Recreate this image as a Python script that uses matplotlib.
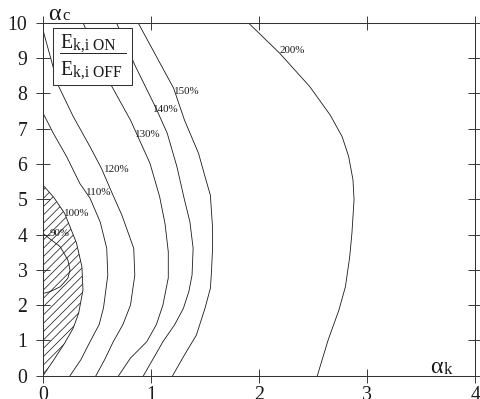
import matplotlib
matplotlib.use("Agg")
import matplotlib.pyplot as plt
from matplotlib.patches import Rectangle

# ---- data: contour lines (alpha_k, alpha_c) ----
levels = ["90%", "100%", "110%", "120%", "130%", "140%", "150%", "200%"]

x90 = [0.0, 0.065, 0.16, 0.23, 0.25, 0.23, 0.16, 0.0]
y90 = [2.33, 2.38, 2.52, 2.76, 2.99, 3.28, 3.65, 4.03]

x100 = [0.0, 0.10, 0.20, 0.28, 0.33, 0.37, 0.36, 0.31, 0.20, 0.10, 0.0]
y100 = [0.0, 0.45, 0.92, 1.35, 1.77, 2.43, 3.09, 3.76, 4.60, 5.05, 5.40]

x110 = [0.25, 0.35, 0.435, 0.52, 0.56, 0.60, 0.59, 0.53, 0.435, 0.34, 0.22, 0.095, 0.0]
y110 = [0.0, 0.45, 0.96, 1.45, 1.92, 2.85, 3.61, 4.35, 5.03, 5.45, 6.20, 6.87, 7.44]

x120 = [0.49, 0.57, 0.65, 0.74, 0.81, 0.85, 0.84, 0.73, 0.64, 0.54, 0.435, 0.28, 0.14, 0.0]
y120 = [0.0, 0.45, 0.96, 1.45, 2.00, 2.85, 3.61, 4.55, 5.17, 5.88, 6.49, 7.34, 8.23, 9.79]

x130 = [0.70, 0.81, 0.96, 1.05, 1.11, 1.16, 1.16, 1.13, 1.08, 0.99, 0.81, 0.62, 0.37]
y130 = [0.0, 0.50, 0.96, 1.45, 2.00, 2.77, 3.51, 4.30, 5.07, 6.02, 7.24, 8.29, 10.0]

x140 = [0.93, 1.02, 1.11, 1.22, 1.30, 1.35, 1.38, 1.39, 1.36, 1.31, 1.24, 1.15, 1.04, 0.85, 0.68]
y140 = [0.0, 0.48, 0.96, 1.45, 1.91, 2.38, 2.85, 3.61, 4.36, 4.98, 5.92, 6.87, 7.62, 8.80, 10.0]

x150 = [1.20, 1.31, 1.42, 1.50, 1.55, 1.56, 1.57, 1.57, 1.55, 1.50, 1.44, 1.31, 1.21, 0.88]
y150 = [0.0, 0.59, 1.15, 1.91, 2.48, 2.95, 3.61, 4.18, 5.11, 5.64, 6.30, 7.24, 8.14, 10.0]

x200 = [2.54, 2.64, 2.74, 2.80, 2.84, 2.86, 2.88, 2.87, 2.83, 2.77, 2.66, 2.47, 2.19, 1.90]
y200 = [0.0, 1.01, 1.86, 2.52, 3.37, 4.03, 4.98, 5.55, 6.21, 6.77, 7.38, 8.19, 9.14, 10.0]

label_x = [0.065, 0.195, 0.40, 0.565, 0.85, 1.02, 1.21, 2.19]
label_y = [4.04, 4.59, 5.20, 5.84, 6.83, 7.54, 8.05, 9.21]

x_ticks = [0, 1, 2, 3, 4]
y_ticks = [0, 1, 2, 3, 4, 5, 6, 7, 8, 9, 10]

# ---- style ----
plt.rcParams["font.family"] = ["Liberation Serif", "DejaVu Serif"]
plt.rcParams["hatch.linewidth"] = 0.7

ink = "#1a1a1a"
fig = plt.figure(figsize=(6.4, 5.32), dpi=75)
ax = fig.add_axes([0.0896, 0.0584, 0.90, 0.8847])
ax.set_xlim(0, 4)
ax.set_ylim(0, 10)

# hatched region left of the 100% line
ax.fill_betweenx(y100, 0, x100, facecolor="none", edgecolor=ink,
                 hatch="///", linewidth=0)

curves = [(x90, y90), (x100, y100), (x110, y110), (x120, y120),
          (x130, y130), (x140, y140), (x150, y150), (x200, y200)]
for xs, ys in curves:
    ax.plot(xs, ys, color=ink, lw=0.8, solid_joinstyle="round")

for lab, lx, ly in zip(levels, label_x, label_y):
    ax.text(lx, ly, lab, fontsize=10.5, color=ink, ha="left", va="center")

# axes frame / ticks
for sp in ax.spines.values():
    sp.set_color("#333333")
    sp.set_linewidth(1.0)
ax.set_xticks(x_ticks)
ax.set_yticks(y_ticks)
ax.tick_params(which="both", direction="inout", length=14, width=0.9,
               color="#333333", top=True, right=True,
               labeltop=False, labelright=False, labelsize=19,
               labelcolor=ink)
ax.tick_params(axis="y", pad=8)
ax.tick_params(axis="x", pad=2.5)

# axis names
ax.text(0.0116, 1.009, "\u03b1", transform=ax.transAxes, fontsize=23,
        ha="left", va="baseline", color=ink, clip_on=False)
ax.text(0.044, 1.007, "c", transform=ax.transAxes, fontsize=16,
        ha="left", va="baseline", color=ink, clip_on=False)
ax.text(0.896, 0.007, "\u03b1", transform=ax.transAxes, fontsize=23,
        ha="left", va="baseline", color=ink)
ax.text(0.927, 0.005, "k", transform=ax.transAxes, fontsize=16,
        ha="left", va="baseline", color=ink)

# legend box with the ratio
box = Rectangle((0.024, 0.8235), 0.183, 0.1605, transform=ax.transAxes,
                facecolor="white", edgecolor="#333333", lw=1.0, zorder=5)
ax.add_patch(box)
ax.text(0.0394, 0.9283, "E", transform=ax.transAxes, fontsize=19,
        ha="left", va="baseline", color=ink, zorder=6)
ax.text(0.0694, 0.9227, "k,i ON", transform=ax.transAxes, fontsize=15,
        ha="left", va="baseline", color=ink, zorder=6)
ax.text(0.0394, 0.8518, "E", transform=ax.transAxes, fontsize=19,
        ha="left", va="baseline", color=ink, zorder=6)
ax.text(0.0694, 0.8462, "k,i OFF", transform=ax.transAxes, fontsize=15,
        ha="left", va="baseline", color=ink, zorder=6)
ax.plot([0.0394, 0.1921], [0.9133, 0.9133], transform=ax.transAxes,
        color=ink, lw=0.9, zorder=6, clip_on=False)

fig.savefig("out.png", dpi=75)
